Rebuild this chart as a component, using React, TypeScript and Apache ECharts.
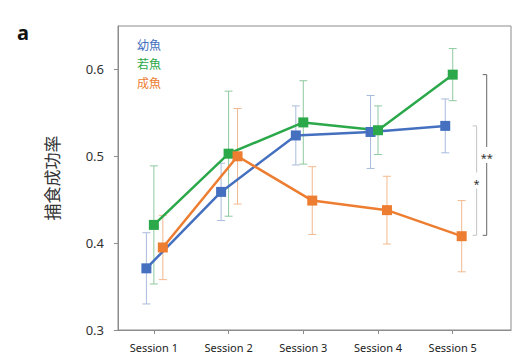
import React, { useEffect, useRef } from "react";
import * as echarts from "echarts";

const sessionLabels = ["Session 1", "Session 2", "Session 3", "Session 4", "Session 5"];
const sessionX = [1, 2, 3, 4, 5];
const groupNames = ["幼魚", "若魚", "成魚"];
const groupColors = ["#4470bf", "#2ba84a", "#ed7d31"];
const errColors = ["#a9bbdc", "#8fc9a0", "#f2b98f"];
const groupOffsets = [-0.1, 0, 0.12];

const juvenileMean = [0.371, 0.459, 0.524, 0.528, 0.535];
const juvenileErr = [0.041, 0.033, 0.034, 0.042, 0.031];
const youngMean = [0.421, 0.503, 0.539, 0.53, 0.594];
const youngErr = [0.068, 0.072, 0.048, 0.028, 0.03];
const adultMean = [0.395, 0.5, 0.449, 0.438, 0.408];
const adultErr = [0.037, 0.055, 0.039, 0.039, 0.041];

const yTicks = [0.3, 0.4, 0.5, 0.6];

const bracketX = [5.32, 5.455];
const bracketTop = [0.535, 0.594];
const bracketBottom = [0.409, 0.409];
const bracketLabels = ["*", "**"];
const bracketColors = ["#c4c4c4", "#666666"];

const means = [juvenileMean, youngMean, adultMean];
const errs = [juvenileErr, youngErr, adultErr];

export default function App() {
  const ref = useRef<HTMLDivElement>(null);
  useEffect(() => {
    if (!ref.current) return;
    const chart = echarts.init(ref.current, undefined, { renderer: "svg" });

    const lineSeries = groupNames.map((name, g) => ({
      type: "line",
      name,
      data: sessionX.map((x, i) => [x + groupOffsets[g], means[g][i]]),
      symbol: "rect",
      symbolSize: 10,
      z: 5,
      itemStyle: { color: groupColors[g] },
      lineStyle: { color: groupColors[g], width: 2.5 },
    }));

    const errSeries = groupNames.map((name, g) => ({
      type: "custom",
      name: name + " err",
      z: 3,
      data: sessionX.map((x, i) => [x + groupOffsets[g], means[g][i] - errs[g][i], means[g][i] + errs[g][i]]),
      renderItem: (params: any, api: any) => {
        const x = api.value(0);
        const lo = api.coord([x, api.value(1)]);
        const hi = api.coord([x, api.value(2)]);
        const hw = 4;
        const st = { stroke: errColors[g], lineWidth: 1 };
        return {
          type: "group",
          children: [
            { type: "line", shape: { x1: lo[0], y1: lo[1], x2: hi[0], y2: hi[1] }, style: st },
            { type: "line", shape: { x1: lo[0] - hw, y1: lo[1], x2: lo[0] + hw, y2: lo[1] }, style: st },
            { type: "line", shape: { x1: hi[0] - hw, y1: hi[1], x2: hi[0] + hw, y2: hi[1] }, style: st },
          ],
        };
      },
    }));

    const bracketSeries = {
      type: "custom",
      name: "brackets",
      z: 2,
      data: bracketX.map((x, i) => [x, bracketTop[i], bracketBottom[i], i]),
      renderItem: (params: any, api: any) => {
        const i = api.value(3);
        const x = api.value(0);
        const top = api.coord([x, api.value(1)]);
        const bot = api.coord([x, api.value(2)]);
        const mid = (top[1] + bot[1]) / 2;
        const gap = 8;
        const st = { stroke: bracketColors[i], lineWidth: 1 };
        const cap = 4;
        return {
          type: "group",
          children: [
            { type: "line", shape: { x1: top[0], y1: top[1], x2: top[0], y2: mid - gap }, style: st },
            { type: "line", shape: { x1: top[0], y1: mid + gap, x2: top[0], y2: bot[1] }, style: st },
            { type: "line", shape: { x1: top[0] - cap, y1: top[1], x2: top[0], y2: top[1] }, style: st },
            { type: "line", shape: { x1: bot[0] - cap, y1: bot[1], x2: bot[0], y2: bot[1] }, style: st },
            {
              type: "text",
              style: {
                text: bracketLabels[i],
                x: top[0],
                y: mid + 3,
                align: "center",
                verticalAlign: "middle",
                fill: "#333",
                fontSize: 11,
                fontFamily: "Noto Sans",
              },
            },
          ],
        };
      },
    };

    chart.setOption({
      animation: false,
      backgroundColor: "#ffffff",
      grid: {
        left: 118,
        right: 17,
        top: 26,
        bottom: 33,
        show: true,
        borderColor: "#8c8c8c",
        borderWidth: 1,
      },
      legend: {
        orient: "vertical",
        left: 127,
        top: 32,
        itemGap: 5,
        itemWidth: 0,
        itemHeight: 0,
        icon: "rect",
        selectedMode: false,
        textStyle: { fontSize: 12, fontFamily: "Noto Sans CJK JP", lineHeight: 14 },
        data: groupNames.map((n, g) => ({ name: n, textStyle: { color: groupColors[g] } })),
      },
      xAxis: {
        type: "value",
        min: 0.52,
        max: 5.78,
        splitLine: { show: false },
        axisLine: { show: true, lineStyle: { color: "#8c8c8c" } },
        axisTick: { show: true, length: 4, lineStyle: { color: "#8c8c8c" }, customValues: sessionX },
        axisLabel: {
          customValues: sessionX,
          formatter: (v: number) => sessionLabels[Math.round(v) - 1] ?? "",
          color: "#222",
          fontSize: 11,
          fontFamily: "Noto Sans",
          margin: 12,
        },
      },
      yAxis: {
        type: "value",
        min: 0.3,
        max: 0.65,
        interval: 0.1,
        name: "捕食成功率",
        nameLocation: "middle",
        nameGap: 58,
        nameTextStyle: { fontSize: 17, fontFamily: "Noto Sans CJK JP", color: "#333" },
        splitLine: { show: false },
        axisLine: { show: true, lineStyle: { color: "#8c8c8c" } },
        axisTick: { show: true, length: 4, lineStyle: { color: "#8c8c8c" }, customValues: yTicks },
        axisLabel: {
          customValues: yTicks,
          formatter: (v: number) => v.toFixed(1),
          color: "#333",
          fontSize: 13,
          fontFamily: "Noto Sans",
          margin: 14,
        },
      },
      graphic: [
        {
          type: "text",
          left: 17,
          top: 22,
          style: { text: "a", fontSize: 20, fontWeight: "bold", fontFamily: "Noto Sans", fill: "#111" },
        },
      ],
      series: [bracketSeries, ...errSeries, ...lineSeries],
    });
    return () => chart.dispose();
  }, []);
  return <div ref={ref} style={{ position: "absolute", left: 0, top: 0, width: 528, height: 363 }} />;
}
